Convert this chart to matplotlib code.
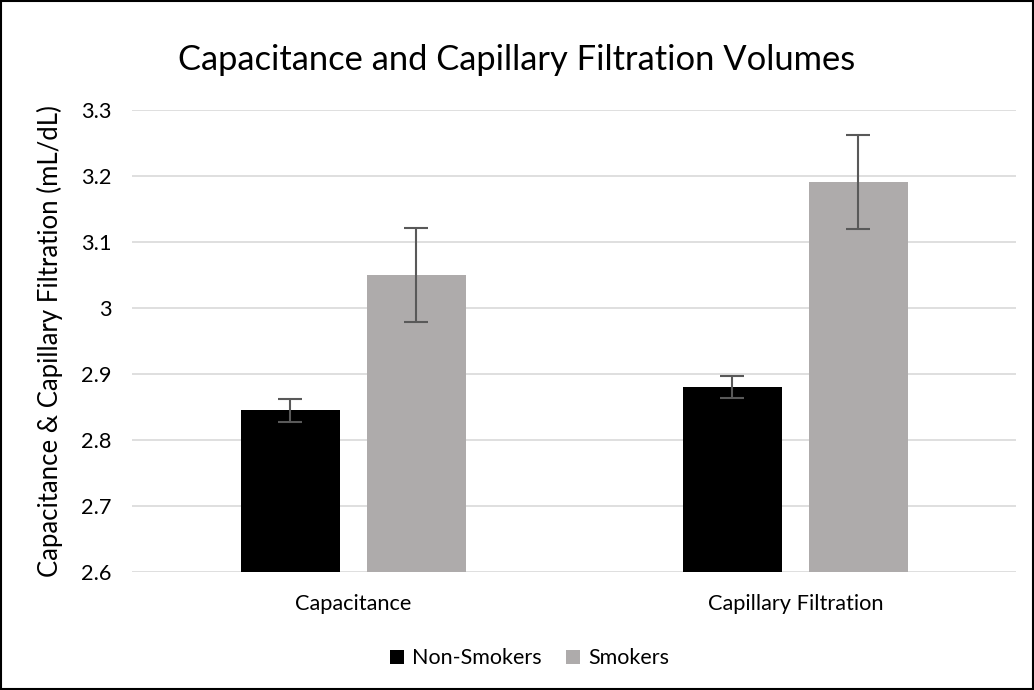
import numpy as np
import matplotlib.pyplot as plt

# data
categories = ['Capacitance', 'Capillary Filtration']
non_smokers = [2.845, 2.880]
smokers = [3.050, 3.191]
non_smokers_err = [0.017, 0.017]
smokers_err = [0.071, 0.071]

plt.rcParams['font.family'] = ['Lato', 'DejaVu Sans']

fig = plt.figure(figsize=(10.34, 6.9), dpi=100)
ax = fig.add_axes([0.128, 0.171, 0.855, 0.6696])

x = np.arange(len(categories))
w = 0.224
off = 0.1425
err_kw = dict(ecolor='#595959', elinewidth=1.5, capsize=8.5, capthick=1.5)
ax.bar(x - off, non_smokers, w, color='black', yerr=non_smokers_err,
       error_kw=err_kw, label='Non-Smokers', zorder=3)
ax.bar(x + off, smokers, w, color='#AEABAB', yerr=smokers_err,
       error_kw=err_kw, label='Smokers', zorder=3)

ax.set_xlim(-0.5, 1.5)
ax.set_ylim(2.6, 3.3)
ax.set_yticks(np.arange(2.6, 3.31, 0.1))
ax.set_yticklabels(['2.6', '2.7', '2.8', '2.9', '3', '3.1', '3.2', '3.3'])
ax.set_xticks(x)
ax.set_xticklabels(categories)
ax.grid(axis='y', color='#D9D9D9', linewidth=1.2, zorder=0)
for s in ['top', 'right', 'left', 'bottom']:
    ax.spines[s].set_visible(False)
ax.tick_params(axis='both', length=0, labelsize=15.7, colors='#000000')
ax.tick_params(axis='y', pad=15)
ax.tick_params(axis='x', pad=16)

ax.set_ylabel('Capacitance & Capillary Filtration (mL/dL)', fontsize=18.5, labelpad=13)
fig.text(0.5, 0.913, 'Capacitance and Capillary Filtration Volumes',
         ha='center', va='center', fontsize=24.8)

fig.legend(loc='center', bbox_to_anchor=(0.512, 0.046), ncol=2, frameon=False,
           fontsize=15.5, handlelength=0.65, handleheight=0.65, columnspacing=1.15,
           handletextpad=0.37)

# outer border
fig.patches.append(plt.Rectangle((0.001, 0.001), 0.998, 0.997, transform=fig.transFigure,
                                 fill=False, edgecolor='black', linewidth=1.5))

fig.savefig('out.png', dpi=100)
